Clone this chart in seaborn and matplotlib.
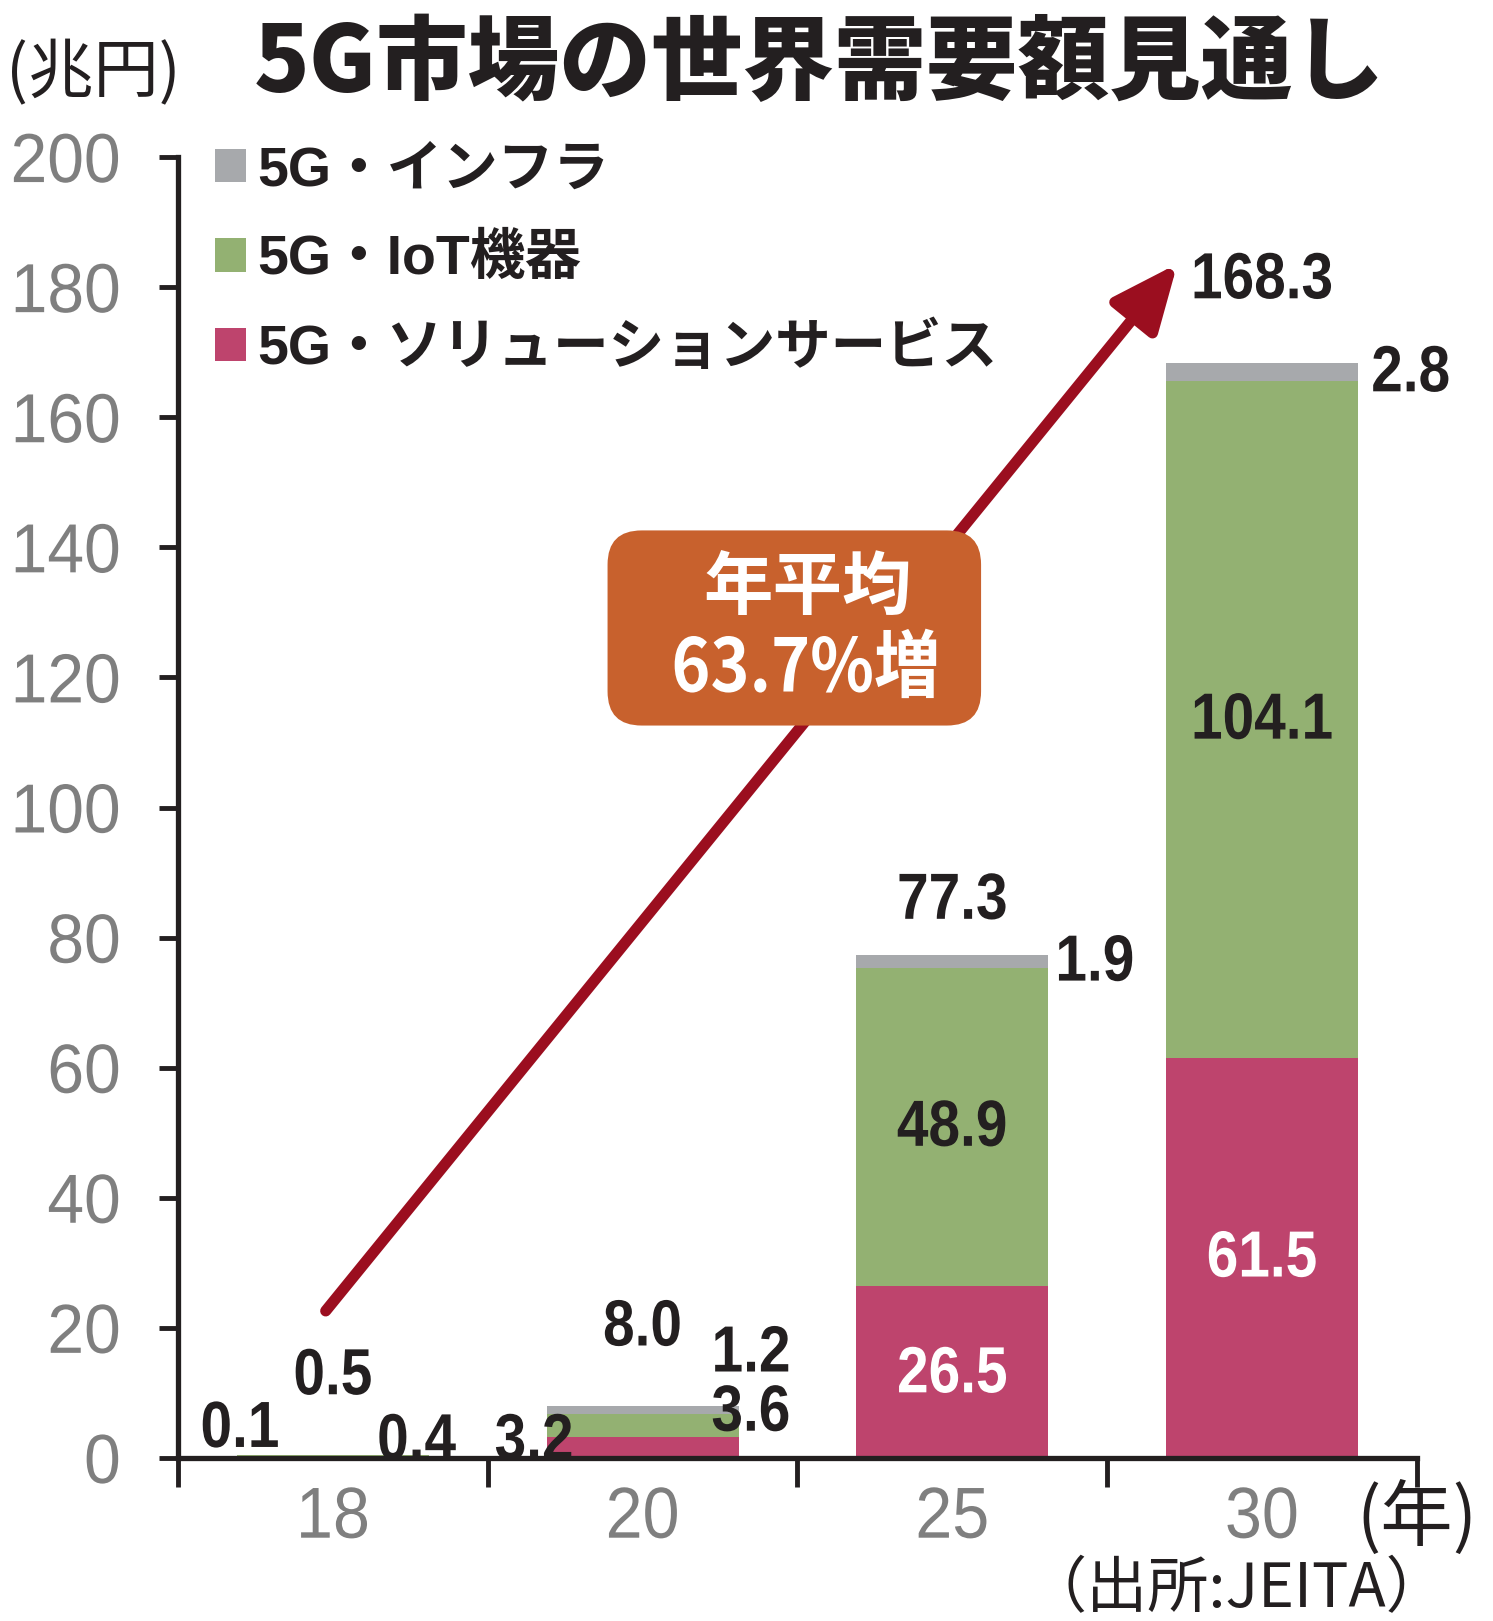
import matplotlib
matplotlib.use("Agg")
import matplotlib.pyplot as plt
import seaborn as sns
import pandas as pd
from matplotlib.patches import FancyBboxPatch
from matplotlib.patheffects import AbstractPathEffect
from matplotlib.transforms import Affine2D

# data (兆円, JEITA)
years = ["18", "20", "25", "30"]
solution = [0.1, 3.2, 26.5, 61.5]
iot = [0.4, 3.6, 48.9, 104.1]
infra = [0.0, 1.2, 1.9, 2.8]
totals = [0.5, 8.0, 77.3, 168.3]
series_names = ["5G・インフラ", "5G・IoT機器", "5G・ソリューションサービス"]
yticks = [0, 20, 40, 60, 80, 100, 120, 140, 160, 180, 200]
cagr_text = "年平均\n63.7%増"

# colours
c_infra = "#A7A9AC"
c_iot = "#93B172"
c_sol = "#BE446D"
c_arrow = "#9B0E1F"
c_box = "#C8612D"
c_ink = "#231F20"


class Squeeze(AbstractPathEffect):
    """Draw text narrower (condensed look) around an anchor."""
    def __init__(self, sx=0.86, anchor="center"):
        super().__init__()
        self.sx = sx
        self.anchor = anchor

    def draw_path(self, renderer, gc, tpath, affine, rgbFace=None):
        ext = tpath.get_extents(affine)
        if self.anchor == "right":
            cx = ext.x1
        elif self.anchor == "left":
            cx = ext.x0
        else:
            cx = (ext.x0 + ext.x1) / 2
        sq = Affine2D().translate(-cx, 0).scale(self.sx, 1).translate(cx, 0)
        renderer.draw_path(gc, tpath, affine + sq, rgbFace)


sns.set_style("ticks")
plt.rcParams["font.family"] = ["Liberation Sans", "Noto Sans CJK JP", "DejaVu Sans"]

df = pd.DataFrame({"year": years, "solution": solution, "iot": iot, "infra": infra})
df["lvl1"] = df["solution"]
df["lvl2"] = df["lvl1"] + df["iot"]
df["lvl3"] = df["lvl2"] + df["infra"]

fig = plt.figure(figsize=(14.93, 16.21), dpi=100)
ax = fig.add_axes([0.1192, 0.1006, 0.8298, 0.8025])

# stacked bars: draw cumulative levels from the top down
for col, color, name in [("lvl3", c_infra, series_names[0]),
                         ("lvl2", c_iot, series_names[1]),
                         ("lvl1", c_sol, series_names[2])]:
    sns.barplot(data=df, x="year", y=col, order=years, color=color,
                saturation=1, width=0.62, ax=ax, label=name, zorder=2,
                linewidth=0, edgecolor="none")

ax.set_xlim(-0.5, 3.5)
ax.set_ylim(0, 200)
ax.set_xlabel("")
ax.set_ylabel("")
sns.despine(ax=ax)
for s in ["left", "bottom"]:
    ax.spines[s].set_linewidth(3.8)
    ax.spines[s].set_color(c_ink)

ax.set_yticks(yticks)
ax.set_yticklabels([str(v) for v in yticks])
ax.tick_params(axis="y", length=14, width=3.5, color=c_ink, pad=27,
               labelsize=50, labelcolor="#7F7F7F")
ax.set_xticks(range(len(years)))
ax.set_xticklabels(years)
ax.set_xticks([i - 0.5 for i in range(len(years) + 1)], minor=True)
ax.tick_params(axis="x", which="major", length=0, pad=20, labelsize=52,
               labelcolor="#7F7F7F")
ax.tick_params(axis="x", which="minor", length=21, width=3.5, color=c_ink)
for lab in ax.get_yticklabels():
    lab.set_path_effects([Squeeze(0.95, "right")])
for lab in ax.get_xticklabels():
    lab.set_path_effects([Squeeze(0.92)])

# value labels (text from data, placement by hand)
labels = [
    (solution[0], -0.30, 4.3, "k"), (totals[0], 0.0, 12.4, "k"), (iot[0], 0.27, 2.4, "k"),
    (solution[1], 0.65, 2.4, "k"), (totals[1], 1.0, 19.9, "k"),
    (infra[1], 1.35, 15.9, "k"), (iot[1], 1.35, 6.8, "k"),
    (totals[2], 2.0, 85.5, "k"), (infra[2], 2.46, 76.0, "k"),
    (iot[2], 2.0, 50.6, "k"), (solution[2], 2.0, 12.7, "w"),
    (totals[3], 3.0, 180.9, "k"), (infra[3], 3.48, 166.6, "k"),
    (iot[3], 3.0, 113.2, "k"), (solution[3], 3.0, 30.5, "w"),
]
for v, x, y, c in labels:
    ax.text(x, y, f"{v:.1f}", ha="center", va="center", fontsize=47,
            color="white" if c == "w" else c_ink, fontweight="bold", zorder=5,
            path_effects=[Squeeze(0.87)])

# growth arrow
ax.annotate("", xy=(2.727, 183.6), xytext=(-0.023, 22.6),
            arrowprops=dict(arrowstyle="-|>,head_length=0.8,head_width=0.35",
                            mutation_scale=50, lw=8, color=c_arrow,
                            shrinkA=0, shrinkB=0), zorder=3)

box = FancyBboxPatch((0.887, 112.6), 2.093 - 0.887, 142.6 - 112.6,
                     boxstyle="round,pad=0,rounding_size=0.11",
                     mutation_aspect=47.7, fc=c_box, ec="none", zorder=4)
ax.add_patch(box)
line1, line2 = cagr_text.split("\n")
ax.text(1.533, 133.5, line1, ha="center", va="center", fontsize=50, color="white",
        family=["Noto Sans CJK JP"], fontweight="bold", zorder=6)
ax.text(1.527, 121.1, line2, ha="center", va="center", fontsize=53, color="white",
        family=["Noto Sans CJK JP"], fontweight="bold", zorder=6,
        path_effects=[Squeeze(0.9)])

leg = ax.legend(loc="upper left", bbox_to_anchor=(0.03, 1.009), frameon=False,
                fontsize=40, handlelength=0.55, handleheight=0.55,
                handletextpad=0.2, labelspacing=0.665, borderpad=0, borderaxespad=0)
for t in leg.get_texts():
    t.set_color(c_ink)
    t.set_fontweight("bold")

# titles and notes
fig.text(0.549, 0.9604, "5G市場の世界需要額見通し", ha="center", va="center",
         fontsize=66, fontweight="heavy", family=["Noto Sans CJK JP"], color=c_ink)
fig.text(0.004, 0.954, "(兆円)", ha="left", va="center", fontsize=47,
         family=["Noto Sans CJK JP"], color=c_ink)
fig.text(0.949, 0.0635, "(年)", ha="center", va="center", fontsize=52,
         family=["Noto Sans CJK JP"], color=c_ink)
fig.text(0.828, 0.0, "（出所:JEITA）", ha="center", va="bottom", fontsize=44,
         family=["Noto Sans CJK JP"], color=c_ink)

fig.savefig("out.png", dpi=100)
